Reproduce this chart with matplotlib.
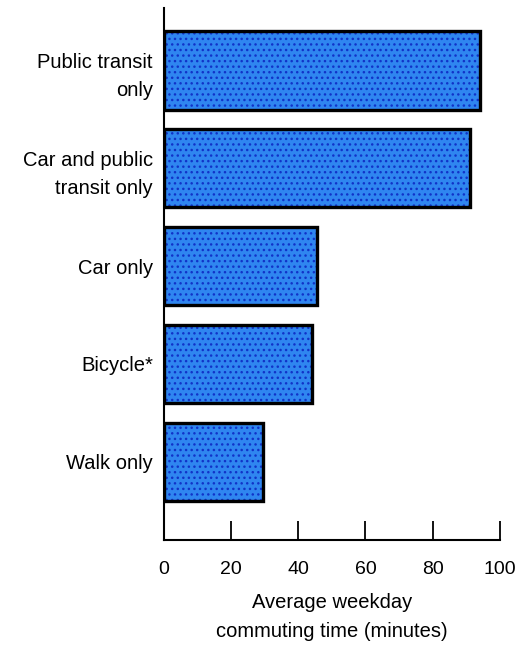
import matplotlib
matplotlib.use("Agg")
import matplotlib.pyplot as plt

plt.rcParams['font.family'] = ['Liberation Sans', 'DejaVu Sans']

# data, top to bottom as in the picture
modes = ["Public transit\nonly", "Car and public\ntransit only", "Car only", "Bicycle*", "Walk only"]
minutes = [94, 91, 45.5, 44, 29.5]
ticks = [0, 20, 40, 60, 80, 100]

# barh draws from the bottom up, so reverse
labels = modes[::-1]
values = minutes[::-1]
pos = list(range(len(values)))

fig = plt.figure(figsize=(5.19, 6.46), dpi=100)
ax = fig.add_axes([0.316, 0.164, 0.647, 0.824])

# base fill, then a dotted texture, then the black outline
ax.barh(pos, values, height=0.8, color="#2f86f0", linewidth=0)
ax.barh(pos, values, height=0.8, fill=False, hatch="...", edgecolor="#1133c8", linewidth=0)
ax.barh(pos, values, height=0.8, fill=False, edgecolor="black", linewidth=2.4)

ax.set_xlim(0, 100)
ax.set_ylim(-0.8, 4.64)
ax.set_xticks(ticks)
ax.set_yticks(pos)
ax.set_yticklabels(labels, fontsize=14.5, linespacing=1.6)
ax.tick_params(axis='y', length=0, pad=8)
ax.tick_params(axis='x', direction='in', length=14, width=1.3, pad=15, labelsize=14)

for s in ['top', 'right']:
    ax.spines[s].set_visible(False)
for s in ['left', 'bottom']:
    ax.spines[s].set_linewidth(1.5)

ax.set_xlabel("Average weekday\ncommuting time (minutes)", fontsize=14.5, labelpad=11, linespacing=1.65)

fig.savefig("out.png", dpi=100)
